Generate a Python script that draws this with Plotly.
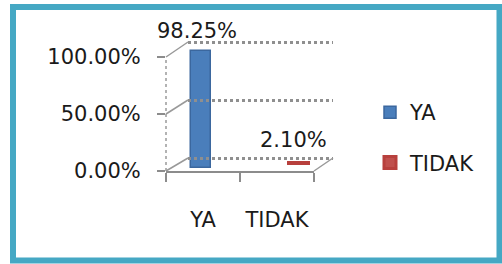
import plotly.graph_objects as go

# ---- data ----
categories = ["YA", "TIDAK"]
series_names = ["YA", "TIDAK"]
series_values = [0.9825, 0.021]
series_colors = ["#4a7ebb", "#c0504d"]
series_edge = ["#3b679e", "#b8403d"]
y_tickvals = [0, 0.5, 1.0]
y_ticktext = ["0.00%", "50.00%", "100.00%"]

W, H = 502, 264
FONT = "DejaVu Sans"


def px(x):
    return x / W


def py(y):
    return 1 - y / H


def ydomain(p0, p1, lo, hi):
    """domain so that value 0 sits at pixel p0 and value 1 at pixel p1, range [lo, hi]"""
    k = p0 - p1
    return [py(p0 - lo * k), py(p0 - hi * k)]


fig = go.Figure()

fig.add_trace(go.Scatter(x=categories, y=[None, None], xaxis="x", yaxis="y",
                         showlegend=False, hoverinfo="skip"))
fig.add_trace(go.Scatter(x=categories, y=[None, None], xaxis="x4", yaxis="y4",
                         showlegend=False, hoverinfo="skip"))

axes_for_series = [("x2", "y2"), ("x3", "y3")]
edge_widths = [1.5, 3]
for i, name in enumerate(series_names):
    xa, ya = axes_for_series[i]
    fig.add_trace(go.Bar(
        x=[categories[i]], y=[series_values[i]], name=name,
        xaxis=xa, yaxis=ya, width=0.28,
        marker=dict(color=series_colors[i],
                    line=dict(color=series_edge[i], width=edge_widths[i])),
        legendgroup=name,
    ))
    fig.add_annotation(
        x=categories[i], y=series_values[i], xref=xa, yref=ya,
        text=f"{series_values[i]*100:.2f}%", showarrow=False,
        yanchor="bottom", yshift=[6, 9][i], xshift=[-4, -6][i],
        font=dict(family=FONT, size=21, color="#1a1a1a"),
    )

common_cat = dict(type="category", categoryorder="array", categoryarray=categories,
                  range=[-0.5, 1.5], automargin=False)

fig.update_layout(
    xaxis=dict(domain=[px(166), px(314)], anchor="y", **common_cat,
               showline=True, linecolor="#8c8c8c", linewidth=1.5,
               ticks="outside", tickson="boundaries", ticklen=9, tickcolor="#8c8c8c",
               tickwidth=1.5, showgrid=False, ticklabelstandoff=29, tickangle=0,
               tickfont=dict(family=FONT, size=21, color="#1a1a1a")),
    yaxis=dict(domain=[py(171), py(57)], anchor="x", range=[0, 1], automargin=False,
               tickvals=y_tickvals, ticktext=y_ticktext, showgrid=False,
               zeroline=False, showline=False, ticks="outside", ticklen=8,
               tickcolor="#8c8c8c", tickwidth=1.5, ticklabelstandoff=12,
               tickfont=dict(family=FONT, size=21, color="#1a1a1a")),
    xaxis2=dict(domain=[px(164), px(312)], anchor="y2", **common_cat, visible=False),
    yaxis2=dict(domain=[py(168), py(49)], anchor="x2", range=[0, 1], visible=False,
                automargin=False),
    xaxis3=dict(domain=[px(188), px(336)], anchor="y3", **common_cat, visible=False),
    yaxis3=dict(domain=[py(165), py(46)], anchor="x3", range=[0, 1], visible=False,
                automargin=False),
    xaxis4=dict(domain=[px(188), px(333)], anchor="y4", **common_cat,
                showticklabels=False, ticks="", showgrid=False, zeroline=False,
                showline=False),
    yaxis4=dict(domain=ydomain(158, 42, -0.03, 1.03), anchor="x4", range=[-0.03, 1.03],
                tickvals=y_tickvals, showticklabels=False, ticks="", automargin=False,
                showgrid=True, gridcolor="#8f8f8f", gridwidth=2.5, griddash="dot",
                zeroline=False, showline=False),
)

shapes = []
grey = dict(color="#999999", width=1.5)
shapes.append(dict(type="line", xref="paper", yref="paper",
                   x0=px(166), x1=px(166), y0=py(171), y1=py(57),
                   line=dict(color="#9a9a9a", width=1.5, dash="dot")))
for f, b in [(57, 42), (114, 100), (171, 158)]:
    shapes.append(dict(type="line", xref="paper", yref="paper",
                       x0=px(166), x1=px(188), y0=py(f), y1=py(b), line=grey))
shapes.append(dict(type="line", xref="paper", yref="paper",
                   x0=px(314), x1=px(333), y0=py(171), y1=py(158), line=grey))
shapes.append(dict(type="rect", xref="paper", yref="paper",
                   x0=px(13), x1=px(499.5), y0=py(260.5), y1=py(7),
                   line=dict(color="#45a8c4", width=6), layer="above"))

fig.update_layout(
    shapes=shapes,
    width=W, height=H, autosize=False,
    margin=dict(l=0, r=0, t=0, b=0, pad=0, autoexpand=False),
    paper_bgcolor="white", plot_bgcolor="rgba(0,0,0,0)",
    showlegend=True,
    legend=dict(x=px(370), y=py(92), xanchor="left", yanchor="top",
                font=dict(family=FONT, size=21, color="#1a1a1a"),
                tracegroupgap=20, traceorder="grouped",
                bgcolor="rgba(0,0,0,0)"),
    bargap=0,
)

fig.write_html(
    "out.html",
    config={"displayModeBar": False, "responsive": False},
    post_script=(
        "document.documentElement.style.margin='0';"
        "document.documentElement.style.padding='0';"
        "document.documentElement.style.overflow='hidden';"
        "document.body.style.margin='0';"
        "document.body.style.padding='0';"
        "document.body.style.overflow='hidden';"
    ),
)
